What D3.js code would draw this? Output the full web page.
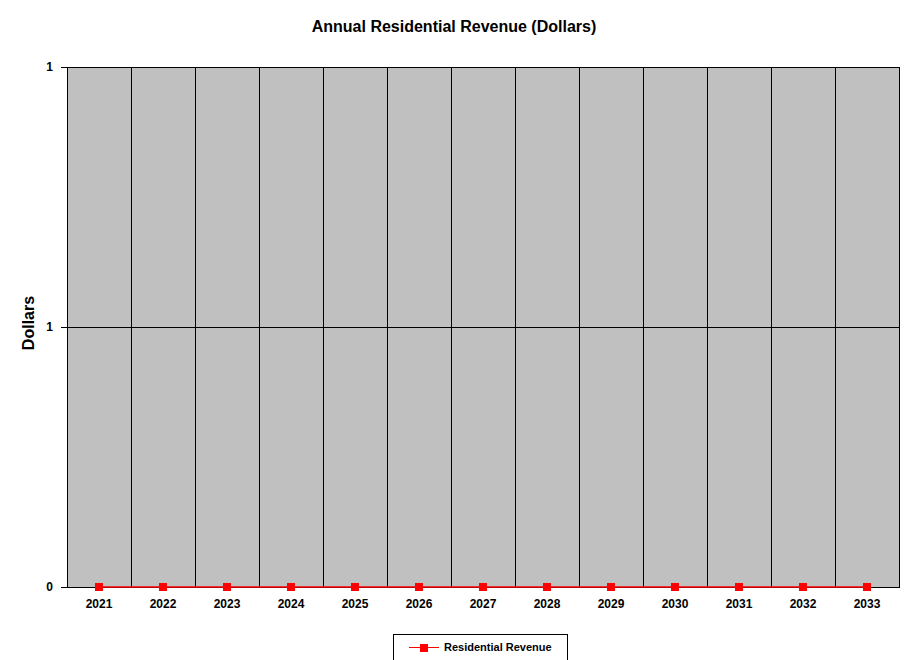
<!DOCTYPE html>
<html><head><meta charset="utf-8">
<script src="https://cdn.jsdelivr.net/npm/d3@7"></script>
<style>body{margin:0;background:#fff}svg{display:block;font-family:"Liberation Sans",Arial,sans-serif}</style>
</head><body><svg id="c" width="909" height="660"></svg>
<script>
const years = ["2021","2022","2023","2024","2025","2026","2027","2028","2029","2030","2031","2032","2033"];
const revenue = [0,0,0,0,0,0,0,0,0,0,0,0,0];
const yTicks = [0, 0.5, 1];
const yTickLabels = ["0","1","1"];

const svg = d3.select("#c");
const m = {l:67, r:899, t:67, b:587};
const x = d3.scaleBand().domain(years).range([m.l, m.r]).padding(0);
const y = d3.scaleLinear().domain([0,1]).range([m.b, m.t]);

svg.append("rect").attr("x",m.l).attr("y",m.t).attr("width",m.r-m.l).attr("height",m.b-m.t)
  .attr("fill","#c0c0c0").attr("stroke","#000").attr("stroke-width",1).attr("shape-rendering","crispEdges");

svg.append("g").attr("shape-rendering","crispEdges").selectAll("line").data(years.slice(1)).join("line")
  .attr("x1",d=>x(d)).attr("x2",d=>x(d)).attr("y1",m.t).attr("y2",m.b)
  .attr("stroke","#000").attr("stroke-width",1);
svg.append("g").attr("shape-rendering","crispEdges").selectAll("line").data(yTicks.slice(1,-1)).join("line")
  .attr("x1",m.l).attr("x2",m.r).attr("y1",d=>y(d)).attr("y2",d=>y(d))
  .attr("stroke","#000").attr("stroke-width",1);

const yAxis = d3.axisLeft(y).tickValues(yTicks).tickSize(6).tickPadding(8)
  .tickFormat((d,i)=>yTickLabels[i]);
const ga = svg.append("g").attr("transform",`translate(${m.l},0)`).call(yAxis);
ga.select(".domain").remove();
ga.selectAll("line").attr("stroke","#000").attr("shape-rendering","crispEdges");
ga.selectAll("text").attr("font-size",12).attr("font-weight","bold").attr("fill","#000")
  .attr("font-family","Liberation Sans, Arial, sans-serif");

const xAxis = d3.axisBottom(x).tickSize(0).tickPadding(12);
const gx = svg.append("g").attr("transform",`translate(0,${m.b})`).call(xAxis);
gx.select(".domain").remove();
gx.selectAll("text").attr("font-size",12).attr("font-weight","bold").attr("fill","#000")
  .attr("font-family","Liberation Sans, Arial, sans-serif");

const cx = d => x(d) + x.bandwidth()/2;
svg.append("path").datum(years.map((yr,i)=>[yr,revenue[i]]))
  .attr("fill","none").attr("stroke","#ff0000").attr("stroke-width",1.3)
  .attr("d", d3.line().x(d=>cx(d[0])).y(d=>y(d[1])));
svg.append("g").selectAll("rect").data(years).join("rect")
  .attr("x",(d)=>cx(d)-4).attr("y",(d,i)=>y(revenue[i])-4).attr("width",8).attr("height",8)
  .attr("fill","#ff0000");

svg.append("text").attr("x",454).attr("y",32).attr("text-anchor","middle")
  .attr("font-size",16).attr("font-weight","bold").text("Annual Residential Revenue (Dollars)");
svg.append("text").attr("transform",`translate(34,323) rotate(-90)`).attr("text-anchor","middle")
  .attr("font-size",16).attr("font-weight","bold").text("Dollars");

const lg = svg.append("g");
lg.append("rect").attr("x",393.5).attr("y",634.5).attr("width",174).attr("height",40)
  .attr("fill","#fff").attr("stroke","#000");
lg.append("line").attr("x1",409).attr("x2",439).attr("y1",647.5).attr("y2",647.5).attr("stroke","#ff0000").attr("stroke-width",1);
lg.append("rect").attr("x",420).attr("y",644).attr("width",8).attr("height",8).attr("fill","#ff0000");
lg.append("text").attr("x",444).attr("y",651).attr("font-size",11).attr("font-weight","bold").text("Residential Revenue");
</script></body></html>
